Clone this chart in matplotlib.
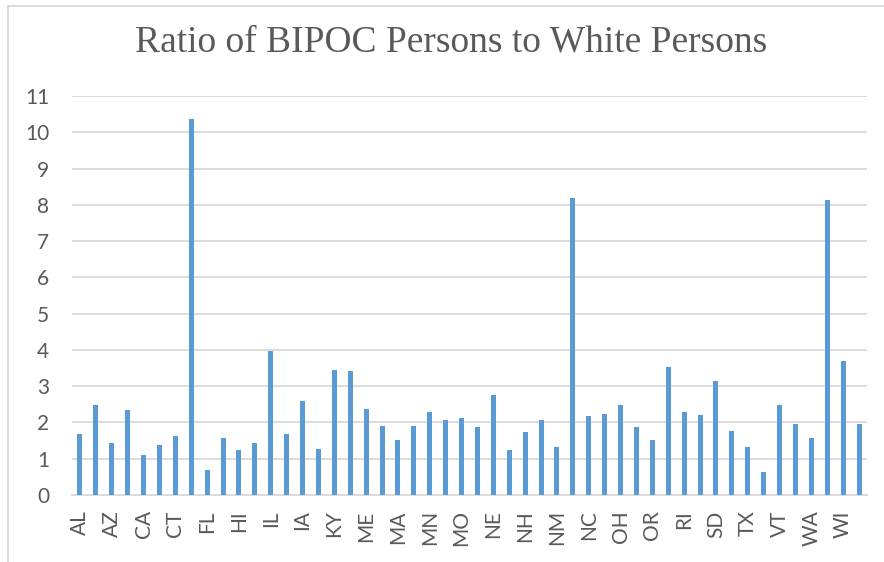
import matplotlib
matplotlib.use("Agg")
import matplotlib.pyplot as plt
from matplotlib.lines import Line2D

states = ["AL", "AK", "AZ", "AR", "CA", "CO", "CT", "DE", "FL", "GA",
          "HI", "ID", "IL", "IN", "IA", "KS", "KY", "LA", "ME", "MD",
          "MA", "MI", "MN", "MS", "MO", "MT", "NE", "NV", "NH", "NJ",
          "NM", "NY", "NC", "ND", "OH", "OK", "OR", "PA", "RI", "SC",
          "SD", "TN", "TX", "UT", "VT", "VA", "WA", "WV", "WI", "WY"]
ratios = [1.68, 2.48, 1.42, 2.33, 1.10, 1.39, 1.62, 10.37, 0.68, 1.58,
          1.23, 1.44, 3.98, 1.68, 2.60, 1.28, 3.45, 3.42, 2.37, 1.91,
          1.53, 1.89, 2.30, 2.06, 2.12, 1.88, 2.77, 1.23, 1.74, 2.08,
          1.33, 8.18, 2.18, 2.22, 2.48, 1.88, 1.51, 3.54, 2.30, 2.20,
          3.15, 1.76, 1.33, 0.64, 2.48, 1.97, 1.58, 8.13, 3.69, 1.95]
yticks = list(range(0, 12))
title = "Ratio of BIPOC Persons to White Persons"

W, H = 884, 562
fig = plt.figure(figsize=(W / 100, H / 100), dpi=100)
fig.patch.set_facecolor("white")

ax = fig.add_axes([72 / W, 1 - 495 / H, (867 - 72) / W, (495 - 96) / H])
x = list(range(len(states)))
ax.bar(x, ratios, width=0.32, color="#5B9BD5", zorder=3)

ax.set_xlim(-0.5, len(states) - 0.5)
ax.set_ylim(0, 11)
ax.set_yticks(yticks)
ax.set_yticklabels([str(t) for t in yticks])
ax.set_xticks(x[::2])
ax.set_xticklabels(states[::2], rotation=90)

ax.grid(axis="y", color="#D9D9D9", linewidth=1.3, zorder=0)
for s in ["top", "right", "left"]:
    ax.spines[s].set_visible(False)
ax.spines["bottom"].set_color("#D9D9D9")
ax.spines["bottom"].set_linewidth(1.3)

for lab in ax.get_yticklabels() + ax.get_xticklabels():
    lab.set_fontfamily("Lato")
    lab.set_fontsize(15)
    lab.set_color("#595959")
ax.tick_params(axis="y", length=0, pad=16.5)
ax.tick_params(axis="x", length=0, pad=11)

fig.text(451 / W, 1 - 42 / H, title, ha="center", va="center",
         family="Liberation Serif", fontsize=27, color="#595959")

# chart area frame (top and left edges)
fig.add_artist(Line2D([8 / W, 1.0], [1 - 5.5 / H, 1 - 5.5 / H],
                      transform=fig.transFigure, color="#D9D9D9", lw=1.3))
fig.add_artist(Line2D([8 / W, 8 / W], [0.0, 1 - 5.5 / H],
                      transform=fig.transFigure, color="#D9D9D9", lw=1.3))

fig.savefig("out.png", dpi=100)
